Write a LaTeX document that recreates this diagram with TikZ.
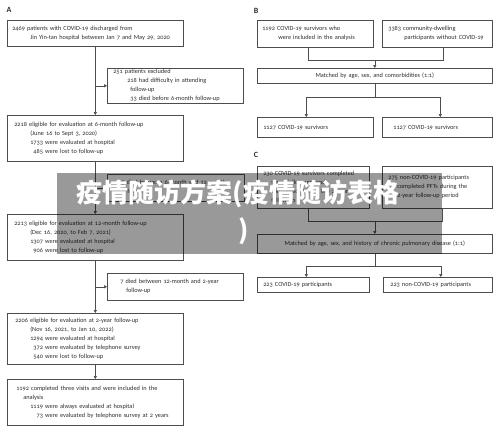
\documentclass[tikz,border=0pt]{standalone}
\usepackage{fontspec}
\setmainfont{Carlito}[Numbers=OldStyle]
\newfontfamily\cjk{Noto Sans CJK SC}
\usetikzlibrary{arrows.meta}

\definecolor{linec}{HTML}{4D4D4D}
\definecolor{textc}{HTML}{2E2E2E}

\tikzset{
	box/.style={draw=linec, line width=0.6pt, anchor=north west, inner xsep=6pt, inner ysep=0pt,
		align=left, text=textc, font=\fontsize{6.3}{9}\selectfont},
	cbox/.style={box, align=center},
	lab/.style={text=textc, inner sep=0pt, font=\bfseries\fontsize{8}{8}\selectfont},
	arr/.style={-{Triangle[length=3pt, width=3.2pt]}, draw=linec, line width=0.6pt},
	con/.style={draw=linec, line width=0.6pt}
}

\begin{document}
\begin{tikzpicture}[x=1pt, y=-1pt]
  \useasboundingbox (0,0) rectangle (500,428);

  % panel A
  \node (la) [lab] at (9,10) {A};
  \node (a1) [box, inner xsep=5pt, text width=166pt, minimum height=26pt] at (7,20)
    {2469 patients with COVID-19 discharged from\\
     \hspace*{18pt}Jin Yin-tan hospital between Jan 7 and May 29, 2020};
  \node (ex1) [box, text width=124pt, minimum height=35pt] at (107,68)
    {251 patients excluded\\
     \hspace*{14pt}218 had difficulty in attending\\
     \hspace*{17pt}follow-up\\
     \hspace*{14pt}\hphantom{2}33 died before 6-month follow-up};
  \node (a2) [box, inner xsep=7pt, text width=162pt, minimum height=46pt] at (7,115)
    {2218 eligible for evaluation at 6-month follow-up\\
     \hspace*{16pt}(June 16 to Sept 3, 2020)\\
     \hspace*{16pt}1733 were evaluated at hospital\\
     \hspace*{16pt}\hphantom{1}485 were lost to follow-up};
  \node (ex2) [box, text width=125pt, minimum height=27pt] at (107,174)
    {\hspace*{8pt}5 died between 6-month and 12-month\\
     \hspace*{14pt}follow-up};
  \node (a3) [box, inner xsep=7pt, text width=162pt, minimum height=46pt] at (7,214)
    {2213 eligible for evaluation at 12-month follow-up\\
     \hspace*{16pt}(Dec 16, 2020, to Feb 7, 2021)\\
     \hspace*{16pt}1307 were evaluated at hospital\\
     \hspace*{16pt}\hphantom{1}906 were lost to follow-up};
  \node (ex3) [box, text width=124pt, minimum height=27pt] at (107,273)
    {\hspace*{7pt}7 died between 12-month and 2-year\\
     \hspace*{13pt}follow-up};
  \node (a4) [box, inner xsep=8pt, text width=160pt, minimum height=51pt] at (7,313)
    {2206 eligible for evaluation at 2-year follow-up\\
     \hspace*{15pt}(Nov 16, 2021, to Jan 10, 2022)\\
     \hspace*{15pt}1294 were evaluated at hospital\\
     \hspace*{15pt}\hphantom{1}372 were evaluated by telephone survey\\
     \hspace*{15pt}\hphantom{1}540 were lost to follow-up};
  \node (a5) [box, inner xsep=9pt, text width=158pt, minimum height=46pt] at (7,379)
    {1192 completed three visits and were included in the\\
     \hspace*{7pt}analysis\\
     \hspace*{14pt}1119 were always evaluated at hospital\\
     \hspace*{14pt}\hphantom{11}73 were evaluated by telephone survey at 2 years};

  \draw[arr] (a1.south) -- (a2.north);
  \draw[arr] (a2.south) -- (a3.north);
  \draw[arr] (a3.south) -- (a4.north);
  \draw[arr] (a4.south) -- (a5.north);
  \draw[arr] (a1.south |- ex1.west) -- (ex1.west);
  \draw[arr] (a2.south |- ex2.west) -- (ex2.west);
  \draw[arr] (a3.south |- ex3.west) -- (ex3.west);

  % panel B
  \node (lb) [lab] at (256,11) {B};
  \node (b1) [box, inner xsep=5pt, text width=106pt, minimum height=27pt] at (257,20)
    {1192 COVID-19 survivors who\\
     \hspace*{16pt}were included in the analysis};
  \node (b2) [box, text width=98pt, minimum height=27pt] at (382,20)
    {3383 community-dwelling\\
     \hspace*{16pt}participants without COVID-19};
  \node (b3) [cbox, text width=223pt, minimum height=15pt] at (257,68)
    {Matched by age, sex, and comorbidities (1:1)};
  \node (b4) [box, text width=104pt, minimum height=20pt] at (257,117)
    {1127 COVID-19 survivors};
  \node (b5) [box, inner xsep=11pt, text width=88pt, minimum height=20pt] at (382,117)
    {1127 COVID-19 survivors};

  \path (b3.north) ++(0,-8) coordinate (bj);
  \path (b3.south) ++(0,14) coordinate (bs);
  \draw[con] ([xshift=-7pt]b1.south) |- (bj);
  \draw[con] ([xshift=6pt]b2.south) |- (bj);
  \draw[arr] (bj) -- (b3.north);
  \draw[con] (b3.south) -- (bs);
  \draw[arr] (bs) -| ([xshift=-9pt]b4.north);
  \draw[arr] (bs) -| ([xshift=3pt]b5.north);

  % panel C
  \node (lc) [lab] at (256,155) {C};
  \node (c1) [box, text width=100pt, minimum height=42pt] at (257,166)
    {230 COVID-19 survivors completed\\
     \hspace*{8pt}three follow-ups and\\
     \hspace*{8pt}completed PFTs at the 2-year\\
     \hspace*{8pt}follow-up};
  \node (c2) [box, text width=98pt, minimum height=42pt] at (382,166)
    {275 non-COVID-19 participants\\
     \hspace*{9pt}completed PFTs during the\\
     \hspace*{9pt}2-year follow-up period};
  \node (c3) [cbox, text width=223pt, minimum height=19pt] at (257,234)
    {Matched by age, sex, and history of chronic pulmonary disease (1:1)};
  \node (c4) [box, text width=100pt, minimum height=15pt] at (257,277)
    {223 COVID-19 participants};
  \node (c5) [box, inner xsep=7pt, text width=95pt, minimum height=15pt] at (383,277)
    {223 non-COVID-19 participants};

  \path (c3.north) ++(0,-13) coordinate (cj);
  \path (c3.south) ++(0,13) coordinate (cs);
  \draw[con] ([xshift=-5pt]c1.south) |- (cj);
  \draw[con] ([xshift=5pt]c2.south) |- (cj);
  \draw[arr] (cj) -- (c3.north);
  \draw[con] (c3.south) -- (cs);
  \draw[arr] (cs) -| ([xshift=-7pt]c4.north);
  \draw[arr] (cs) -| ([xshift=3pt]c5.north);

  % overlay band
  \fill[black, opacity=0.4] (57,173) rectangle (442,254);
  \node (wm) [text=white, align=center, inner sep=0pt,
    font=\cjk\bfseries\fontsize{26}{37}\selectfont] at (238,212)
    {疫情随访方案(疫情随访表格\\\hspace*{12pt})};
\end{tikzpicture}
\end{document}
